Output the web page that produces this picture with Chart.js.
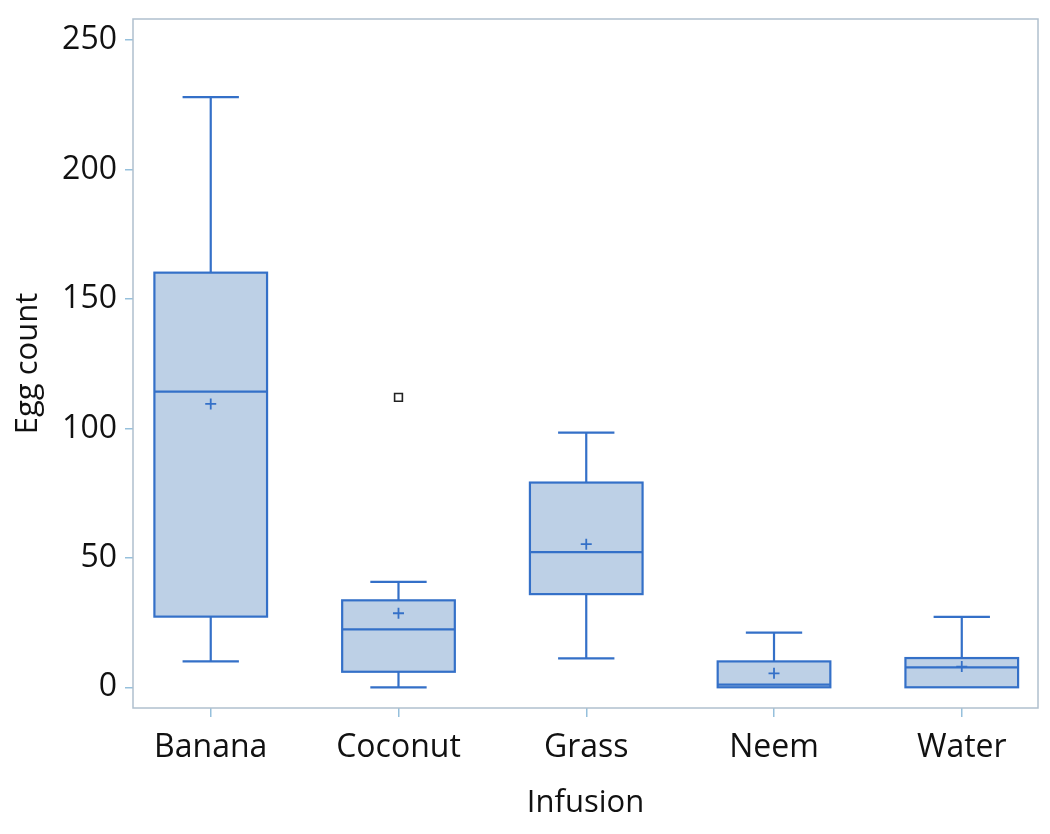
<!DOCTYPE html>
<html>
<head>
<meta charset="utf-8">
<script src="https://cdn.jsdelivr.net/npm/chart.js@4.4.1/dist/chart.umd.min.js"></script>
<style>
  html, body { margin: 0; padding: 0; background: #ffffff; }
  #wrap { width: 1050px; height: 834px; }
</style>
</head>
<body>
<div id="wrap"><canvas id="c" width="1050" height="834"></canvas></div>
<script>
// ---- Data ----
const categories   = ['Banana', 'Coconut', 'Grass', 'Neem', 'Water'];
const whiskerLow   = [10.0, 0.0, 11.2, 0.0, 0.0];
const q1           = [27.3, 6.0, 36.0, 0.0, 0.0];
const median       = [114.2, 22.4, 52.2, 1.0, 7.7];
const q3           = [160.2, 33.6, 79.1, 10.0, 11.3];
const whiskerHigh  = [228.0, 40.7, 98.4, 21.1, 27.2];
const means        = [109.5, 28.6, 55.3, 5.4, 8.0];
const outlierCat   = [1];
const outlierVal   = [112.0];
const yTicks       = [0, 50, 100, 150, 200, 250];

// ---- Styles ----
const BOX_HALF = 0.3;
const CAP_HALF = 0.15;
const FILL = 'rgb(189,208,230)';
const STROKE = 'rgb(52,112,200)';
const FRAME = 'rgb(176,192,206)';
const TICKC = 'rgb(150,192,220)';
const FONT = "'Open Sans', 'Noto Sans', sans-serif";

const boxPlugin = {
  id: 'boxes',
  beforeDatasetsDraw(chart) {
    const { ctx, scales: { x, y }, chartArea } = chart;
    ctx.save();
    // frame
    ctx.strokeStyle = FRAME;
    ctx.lineWidth = 1.5;
    ctx.strokeRect(chartArea.left, chartArea.top, chartArea.right - chartArea.left, chartArea.bottom - chartArea.top);

    ctx.lineWidth = 2.2;
    ctx.strokeStyle = STROKE;
    categories.forEach((c, i) => {
      const xc = x.getPixelForValue(i);
      const xl = x.getPixelForValue(i - BOX_HALF);
      const xr = x.getPixelForValue(i + BOX_HALF);
      const cl = x.getPixelForValue(i - CAP_HALF);
      const cr = x.getPixelForValue(i + CAP_HALF);
      const yLo = y.getPixelForValue(whiskerLow[i]);
      const yQ1 = y.getPixelForValue(q1[i]);
      const yMed = y.getPixelForValue(median[i]);
      const yQ3 = y.getPixelForValue(q3[i]);
      const yHi = y.getPixelForValue(whiskerHigh[i]);

      // box
      ctx.fillStyle = FILL;
      ctx.fillRect(xl, yQ3, xr - xl, yQ1 - yQ3);
      ctx.strokeRect(xl, yQ3, xr - xl, yQ1 - yQ3);
      // median
      ctx.beginPath();
      ctx.moveTo(xl, yMed); ctx.lineTo(xr, yMed);
      // whiskers
      if (yLo !== yQ1) { ctx.moveTo(xc, yQ1); ctx.lineTo(xc, yLo); }
      ctx.moveTo(xc, yQ3); ctx.lineTo(xc, yHi);
      // caps
      ctx.moveTo(cl, yHi); ctx.lineTo(cr, yHi);
      if (yLo !== yQ1) { ctx.moveTo(cl, yLo); ctx.lineTo(cr, yLo); }
      ctx.stroke();
    });
    ctx.restore();
  }
};

const meanData = categories.map((c, i) => ({ x: i, y: means[i] }));
const outlierData = outlierCat.map((c, k) => ({ x: c, y: outlierVal[k] }));

new Chart(document.getElementById('c'), {
  type: 'scatter',
  data: {
    datasets: [
      {
        label: 'Mean',
        data: meanData,
        pointStyle: 'cross',
        radius: 5.5,
        borderColor: STROKE,
        borderWidth: 1.8,
        hoverRadius: 5.5
      },
      {
        label: 'Outlier',
        data: outlierData,
        pointStyle: 'rect',
        radius: 5.5,
        backgroundColor: '#ffffff',
        borderColor: '#222222',
        borderWidth: 1.6,
        hoverRadius: 5.5
      }
    ]
  },
  options: {
    responsive: false,
    animation: false,
    devicePixelRatio: 1,
    layout: { padding: { left: 0, right: 12, top: 19, bottom: 0 } },
    plugins: { legend: { display: false }, tooltip: { enabled: false } },
    scales: {
      x: {
        type: 'linear',
        min: -0.414,
        max: 4.406,
        afterFit(scale) { scale.height = 126; },
        afterBuildTicks(scale) { scale.ticks = categories.map((c, i) => ({ value: i })); },
        ticks: {
          callback: (v) => categories[v],
          font: { family: FONT, size: 32 },
          color: '#111111',
          padding: 12,
          maxRotation: 0,
          autoSkip: false
        },
        grid: { display: true, drawOnChartArea: false, drawTicks: true, tickLength: 9, color: TICKC, lineWidth: 1.5 },
        border: { display: false },
        title: {
          display: true, text: 'Infusion',
          font: { family: FONT, size: 31 }, color: '#111111',
          padding: { top: 0, bottom: 12 }
        }
      },
      y: {
        type: 'linear',
        min: -8.0,
        max: 258.2,
        afterFit(scale) { scale.width = 133; },
        afterBuildTicks(scale) { scale.ticks = yTicks.map(v => ({ value: v })); },
        ticks: {
          font: { family: FONT, size: 32, lineHeight: 0.5 },
          color: '#111111',
          padding: 8
        },
        grid: { display: true, drawOnChartArea: false, drawTicks: true, tickLength: 8, color: TICKC, lineWidth: 1.5 },
        border: { display: false },
        title: {
          display: true, text: 'Egg count',
          font: { family: FONT, size: 31 }, color: '#111111',
          padding: { top: 10, bottom: 0 }
        }
      }
    }
  },
  plugins: [boxPlugin]
});
</script>
</body>
</html>
